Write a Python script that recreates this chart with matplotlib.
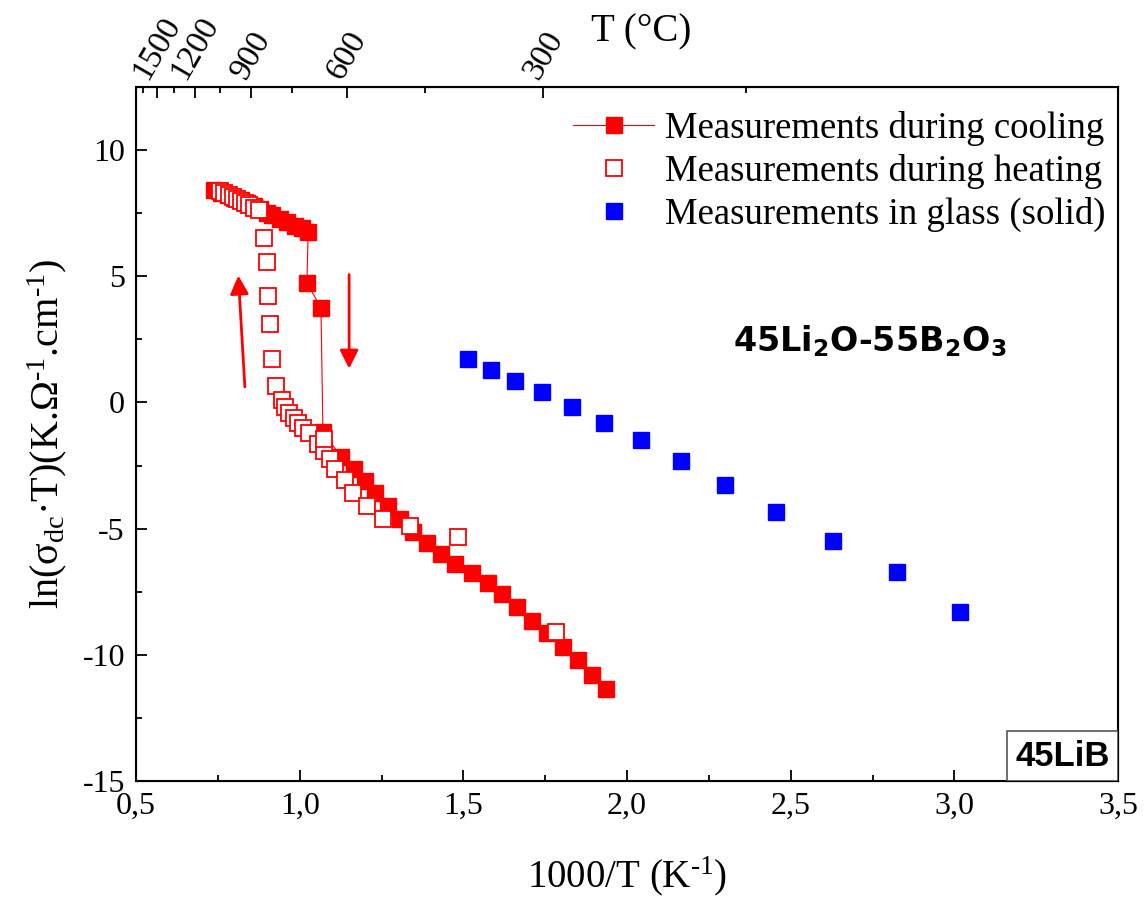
import numpy as np
import matplotlib.pyplot as plt
from matplotlib.patches import Rectangle
from matplotlib.ticker import MultipleLocator, FixedLocator, NullFormatter

# ---- data ----
cool_x = [0.737, 0.76, 0.78, 0.80, 0.82, 0.84, 0.86, 0.88, 0.90,
          0.915, 0.940, 0.962, 0.986, 1.006, 1.026,
          1.022, 1.065, 1.071,
          1.126, 1.165, 1.199, 1.231, 1.269, 1.307, 1.347, 1.389, 1.431,
          1.475, 1.525, 1.575, 1.619, 1.665, 1.711, 1.757, 1.803, 1.849,
          1.893, 1.936]
cool_y = [8.42, 8.32, 8.22, 8.12, 8.02, 7.90, 7.78, 7.65, 7.52,
          7.43, 7.27, 7.14, 7.00, 6.90, 6.77,
          4.74, 3.75, -1.15,
          -2.15, -2.62, -3.10, -3.57, -4.10, -4.62, -5.13, -5.57, -6.00,
          -6.39, -6.75, -7.14, -7.60, -8.12, -8.64, -9.14, -9.69, -10.21,
          -10.78, -11.34]

heat_x = [0.757, 0.770, 0.783, 0.795, 0.807, 0.820, 0.832, 0.845, 0.860,
          0.876, 0.891, 0.899, 0.904, 0.909, 0.915, 0.928, 0.945, 0.955,
          0.968, 0.983, 0.996, 1.011, 1.027, 1.057, 1.074, 1.074, 1.093,
          1.108, 1.139, 1.164, 1.205, 1.256, 1.337, 1.485, 1.782]
heat_y = [8.38, 8.30, 8.22, 8.14, 8.06, 7.98, 7.90, 7.82, 7.72,
          7.62, 6.53, 5.55, 4.20, 3.12, 1.74, 0.64, 0.10, -0.17,
          -0.41, -0.61, -0.80, -1.00, -1.20, -1.66, -1.92, -1.44, -2.25,
          -2.62, -3.07, -3.57, -4.10, -4.62, -4.91, -5.32, -9.10]

glass_x = [1.514, 1.585, 1.658, 1.740, 1.832, 1.930, 2.043, 2.165,
           2.300, 2.455, 2.630, 2.825, 3.018]
glass_y = [1.74, 1.30, 0.87, 0.40, -0.16, -0.83, -1.50, -2.33,
           -3.28, -4.35, -5.49, -6.72, -8.30]

top_T_major = [1500, 1200, 900, 600, 300]
top_T_minor = [1650, 1350, 1050, 750, 450, 150]

# ---- style ----
plt.rcParams['font.family'] = ['Liberation Serif', 'DejaVu Serif']
plt.rcParams['mathtext.fontset'] = 'custom'
plt.rcParams['mathtext.rm'] = 'Liberation Serif'
plt.rcParams['mathtext.it'] = 'Liberation Serif'
plt.rcParams['mathtext.bf'] = 'Liberation Serif:bold'
plt.rcParams['axes.unicode_minus'] = False

RED = '#ff0000'
BLUE = '#0000ff'

fig = plt.figure(figsize=(11.44, 9), dpi=100)
ax = fig.add_axes([0.1189, 0.1322, 0.8584, 0.7711])

ax.plot(cool_x, cool_y, '-', color=RED, lw=0.8, marker='s', ms=11,
        mfc=RED, mec=RED, label='Measurements during cooling', zorder=3)
ax.plot(heat_x, heat_y, 's', ms=11, mfc='white', mec=RED, mew=1.3,
        label='Measurements during heating', zorder=4)
ax.plot(glass_x, glass_y, 's', ms=11, mfc=BLUE, mec=BLUE,
        label='Measurements in glass (solid)', zorder=3)

ax.set_xlim(0.5, 3.5)
ax.set_ylim(-15, 12.5)
ax.xaxis.set_major_locator(MultipleLocator(0.5))
ax.xaxis.set_minor_locator(MultipleLocator(0.25))
ax.yaxis.set_major_locator(MultipleLocator(5))
ax.yaxis.set_minor_locator(MultipleLocator(2.5))
ax.set_xticklabels([f"{v:.1f}".replace('.', ',') for v in ax.get_xticks()])
ax.tick_params(which='both', direction='in', labelsize=23, width=1.3,
               top=False, right=False)
ax.tick_params(which='major', length=8, pad=8)
ax.tick_params(which='minor', length=4.5)
for s in ax.spines.values():
    s.set_linewidth(1.5)

ax.set_xlabel('1000/T (K$^{\\text{-1}}$)', fontsize=28, labelpad=24)
ax.set_ylabel('ln(σ$_{\\text{dc}}$·T)(K.Ω$^{\\text{-1}}$.cm$^{\\text{-1}}$)',
              fontsize=29, labelpad=10)

# top axis in degrees C
ax2 = ax.twiny()
ax2.set_xlim(ax.get_xlim())
ax2.xaxis.set_major_locator(FixedLocator([1000 / (t + 273.15) for t in top_T_major]))
ax2.xaxis.set_minor_locator(FixedLocator([1000 / (t + 273.15) for t in top_T_minor]))
ax2.xaxis.set_minor_formatter(NullFormatter())
ax2.set_xticklabels([str(t) for t in top_T_major], rotation=60)
ax2.tick_params(which='both', direction='in', labelsize=24, width=1.3)
ax2.tick_params(which='major', length=8, pad=2)
ax2.tick_params(which='minor', length=4.5)
ax.text(0.514, 1.08, 'T (°C)', transform=ax.transAxes, ha='center',
        va='center', fontsize=28)

# arrows
arrow = dict(arrowstyle='-|>', color=RED, lw=2, mutation_scale=28)
ax.annotate('', xy=(0.812, 5.14), xytext=(0.833, 0.51), arrowprops=arrow)
ax.annotate('', xy=(1.151, 1.23), xytext=(1.151, 5.18), arrowprops=arrow)

ax.text(2.74, 2.45, '45Li$_{\\mathbf{2}}$O-55B$_{\\mathbf{2}}$O$_{\\mathbf{3}}$',
        family='DejaVu Sans', fontweight='bold', fontsize=24, ha='center',
        va='center', math_fontfamily='dejavusans')

# sample tag in the lower right corner
ax.add_patch(Rectangle((0.887, 0.0), 0.113, 0.072, transform=ax.transAxes,
                       fc='white', ec='#555555', lw=1.2, zorder=5))
ax.text(0.9435, 0.036, '45LiB', transform=ax.transAxes, ha='center',
        va='center', family='Liberation Sans', fontweight='bold',
        fontsize=25, zorder=6)

ax.legend(loc='upper right', bbox_to_anchor=(1.012, 1.0), frameon=False,
          fontsize=26.5, handlelength=2.2, handletextpad=0.3,
          labelspacing=0.22, borderaxespad=0.35, borderpad=0.3)

fig.savefig('out.png', dpi=100)
